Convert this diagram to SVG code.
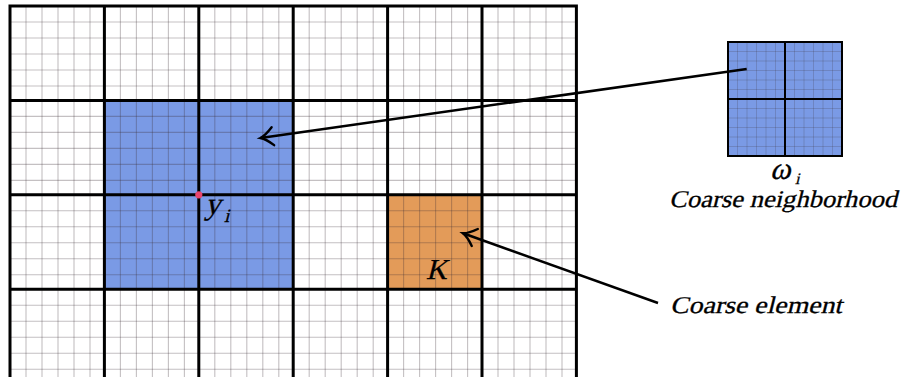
<svg xmlns="http://www.w3.org/2000/svg" width="901" height="377" viewBox="0 0 901 377">
<defs>
<style>
.fine{fill:none;stroke:#3c2f36;stroke-opacity:0.3;stroke-width:1.1}
.finei{fill:none;stroke:#3c2f36;stroke-opacity:0.26;stroke-width:0.8}
.coarse{fill:none;stroke:#000;stroke-width:3;stroke-linecap:square}
.conn{fill:none;stroke:#000;stroke-width:2.5}
.lab{font-family:"Liberation Serif","Times New Roman",serif;fill:#000;stroke:#000;stroke-width:0.3}
</style>
<marker id="arr" markerUnits="userSpaceOnUse" markerWidth="30" markerHeight="30" viewBox="-15 -15 30 30" refX="0" refY="0" orient="auto">
<path d="M-12.5 -9 C-7 -3.5 -2.5 -0.8 0 0 C-2.5 0.8 -7 3.5 -12.5 9" fill="none" stroke="#000" stroke-width="2.4" stroke-linecap="round"/>
</marker>
</defs>
<rect width="901" height="377" fill="#fff"/>
<g id="neighborhood"><rect x="104.4" y="100.4" width="188.8" height="188.8" fill="#7a9ae5"/></g>
<g id="element"><rect x="387.6" y="194.8" width="94.4" height="94.4" fill="#e39b59"/></g>
<g id="grid">
<path class="fine" d="M26 6V377M42 6V377M58 6V377M74 6V377M90 6V377M120.4 6V377M136.4 6V377M152.4 6V377M168.4 6V377M184.4 6V377M214.8 6V377M230.8 6V377M246.8 6V377M262.8 6V377M278.8 6V377M309.2 6V377M325.2 6V377M341.2 6V377M357.2 6V377M373.2 6V377M403.6 6V377M419.6 6V377M435.6 6V377M451.6 6V377M467.6 6V377M498 6V377M514 6V377M530 6V377M546 6V377M562 6V377"/>
<path class="fine" d="M10 22H576.4M10 38H576.4M10 54H576.4M10 70H576.4M10 86H576.4M10 116.4H576.4M10 132.4H576.4M10 148.4H576.4M10 164.4H576.4M10 180.4H576.4M10 210.8H576.4M10 226.8H576.4M10 242.8H576.4M10 258.8H576.4M10 274.8H576.4M10 305.2H576.4M10 321.2H576.4M10 337.2H576.4M10 353.2H576.4M10 369.2H576.4"/>
<path class="coarse" d="M10 6V380M104.4 6V380M198.8 6V380M293.2 6V380M387.6 6V380M482 6V380M576.4 6V380M10 6H576.4M10 100.4H576.4M10 194.8H576.4M10 289.2H576.4"/>
</g>
<g id="node-yi">
<circle cx="198.8" cy="194.8" r="3.6" fill="#e8456e"/>
<text class="lab" transform="translate(205,214) skewX(-14)" font-size="31">y</text>
<text class="lab" transform="translate(224,221.5) skewX(-14)" font-size="19">i</text>
</g>
<g id="node-K"><text class="lab" transform="translate(426,278.5) skewX(-14)" font-size="29">K</text></g>
<g id="inset">
<rect x="728" y="42" width="114" height="114" fill="#7a9ae5"/>
<path class="finei" d="M737.5 42V156M747 42V156M756.5 42V156M766 42V156M775.5 42V156M794.5 42V156M804 42V156M813.5 42V156M823 42V156M832.5 42V156M728 51.5H842M728 61H842M728 70.5H842M728 80H842M728 89.5H842M728 108.5H842M728 118H842M728 127.5H842M728 137H842M728 146.5H842"/>
<path d="M785 42V156M728 99H842" fill="none" stroke="#000" stroke-width="2"/>
<rect x="728" y="42" width="114" height="114" fill="none" stroke="#000" stroke-width="2"/>
<text class="lab" transform="translate(770,178.5) skewX(-14)" font-size="31">ω</text>
<text class="lab" transform="translate(795,184) skewX(-14)" font-size="16">i</text>
<text class="lab" transform="translate(669,207) skewX(-14)" font-size="24" textLength="228" lengthAdjust="spacingAndGlyphs">Coarse neighborhood</text>
</g>
<g id="label-element"><text class="lab" transform="translate(670,312.7) skewX(-14)" font-size="24" textLength="172" lengthAdjust="spacingAndGlyphs">Coarse element</text></g>
<g id="connectors">
<path class="conn" d="M746.7 69L260.5 138" marker-end="url(#arr)"/>
<path class="conn" d="M658 303L463 233.3" marker-end="url(#arr)"/>
</g>
</svg>
